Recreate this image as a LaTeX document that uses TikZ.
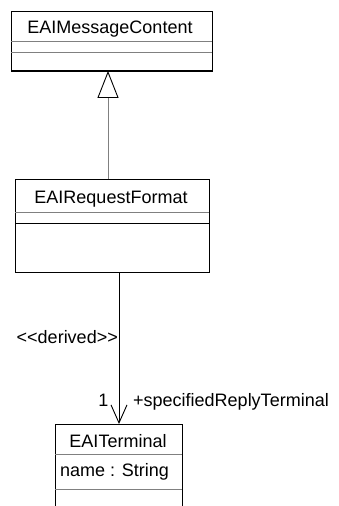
\documentclass[tikz,border=0pt]{standalone}
\usepackage{fontspec}
\setmainfont{Liberation Sans}
\usetikzlibrary{arrows.meta}

\tikzset{
  umlbox/.style={draw=black, line width=0.9pt, anchor=north west, inner sep=0pt},
  sepline/.style={draw=gray, line width=0.9pt},
  lbl/.style={font=\fontsize{18}{20}\selectfont, inner sep=0pt},
}

\begin{document}
\begin{tikzpicture}[x=1pt,y=-1pt]
    \useasboundingbox (0,0) rectangle (338,506);

    % EAIMessageContent
    \node[umlbox, minimum width=201pt, minimum height=59pt] (msg) at (11,11) {};
    \node[lbl, anchor=base] (msgname) at (110,33) {EAIMessageContent};
    \draw[sepline] (11,41) -- (212,41);
    \draw[sepline] (11,52) -- (212,52);
    \draw[black, line width=2pt] (msg.south west) -- (msg.south east);

    % EAIRequestFormat
    \node[umlbox, minimum width=194pt, minimum height=93pt] (fmt) at (15,179) {};
    \node[lbl, anchor=base] (fmtname) at (111,203.3) {EAIRequestFormat};
    \draw[sepline] (15,212) -- (209,212);
    \draw[black, line width=0.9pt] (15,223) -- (209,223);

    % EAITerminal
    \node[umlbox, minimum width=127pt, minimum height=100pt] (term) at (55,424) {};
    \node[lbl, anchor=base] (termname) at (118,447) {EAITerminal};
    \draw[sepline] (55,454) -- (182,454);
    \node[lbl, anchor=base west] (attr) at (60,476.7) {name : String};
    \draw[sepline] (55,489) -- (182,489);

    % generalization
    \coordinate (gx) at (108,0);
    \draw[gray, line width=0.9pt, -{Triangle[open, length=27pt, width=21pt, black]}]
        (fmt.north -| gx) -- (msg.south -| gx);

    % dependency
    \coordinate (dx) at (119,0);
    \draw[black, line width=0.9pt, -{Straight Barb[length=18pt, width=16pt]}]
        (fmt.south -| dx) -- (term.north -| dx);
    \node[lbl, anchor=base east] (derived) at (118,343) {{<}{<}derived{>}{>}};
    \node[lbl, anchor=base east] (mult) at (108.5,406) {1};
    \node[lbl, anchor=base west] (role) at (133,406) {+specifiedReplyTerminal};
\end{tikzpicture}
\end{document}
